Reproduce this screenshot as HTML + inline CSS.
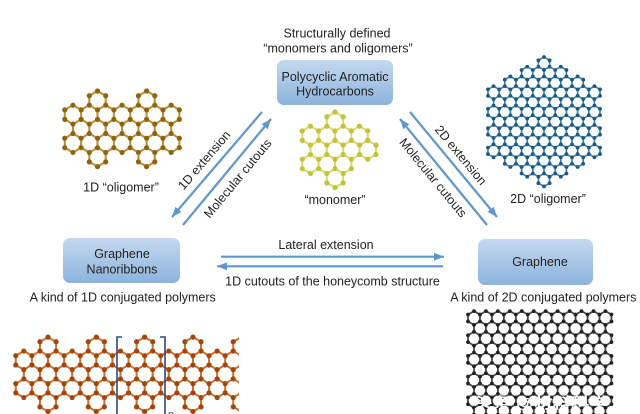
<!DOCTYPE html>
<html><head><meta charset="utf-8">
<style>
html,body{margin:0;padding:0;background:#fff;width:640px;height:414px;overflow:hidden;}
svg{display:block;}
text{font-family:"Liberation Sans","Noto Sans CJK SC",sans-serif;fill:#222;font-size:12.5px;}
</style></head><body>
<svg id="s" width="640" height="414" viewBox="0 0 640 414" xmlns="http://www.w3.org/2000/svg">
<defs>
<linearGradient id="bx" x1="0" y1="0" x2="0" y2="1">
<stop offset="0" stop-color="#c4d9ef"/><stop offset="1" stop-color="#8db3dc"/>
</linearGradient>
<marker id="ah" viewBox="0 0 10 8" refX="10" refY="4" markerWidth="10" markerHeight="8" markerUnits="userSpaceOnUse" orient="auto">
<path d="M0,0 L10,4 L0,8 z" fill="#5f97cb"/>
</marker>
<clipPath id="gnrclip"><rect x="0" y="330" width="239" height="90"/></clipPath>
</defs>
<rect width="640" height="414" fill="#fff"/>

<g id="mols"></g>

<!-- boxes -->
<rect x="277" y="60" width="116" height="45" rx="7" fill="url(#bx)"/>
<rect x="63" y="238" width="117" height="45" rx="7" fill="url(#bx)"/>
<rect x="478" y="239" width="115" height="46" rx="7" fill="url(#bx)"/>

<!-- arrows -->
<g stroke="#5f97cb" stroke-width="2.2" fill="none">
<line x1="262" y1="112" x2="172" y2="217" marker-end="url(#ah)"/>
<line x1="183" y1="225" x2="271" y2="119" marker-end="url(#ah)"/>
<line x1="410" y1="112" x2="497" y2="217" marker-end="url(#ah)"/>
<line x1="487" y1="225" x2="400" y2="119" marker-end="url(#ah)"/>
<line x1="221" y1="256.7" x2="444" y2="256.7" marker-end="url(#ah)"/>
<line x1="443" y1="266.3" x2="217" y2="266.3" marker-end="url(#ah)"/>
</g>

<!-- text -->
<g text-anchor="middle">
<text x="337" y="37.3">Structurally defined</text>
<text x="338" y="52.5">“monomers and oligomers”</text>
<text x="335" y="80.8" fill="#1c2433">Polycyclic Aromatic</text>
<text x="335" y="95.5" fill="#1c2433">Hydrocarbons</text>
<text x="335" y="204">“monomer”</text>
<text x="121" y="191.5">1D “oligomer”</text>
<text x="548" y="203">2D “oligomer”</text>
<text x="122" y="258">Graphene</text>
<text x="122" y="273.5">Nanoribbons</text>
<text x="122.7" y="301.5">A kind of 1D conjugated polymers</text>
<text x="540" y="266">Graphene</text>
<text x="543.3" y="301.5">A kind of 2D conjugated polymers</text>
<text x="326" y="249">Lateral extension</text>
<text x="332.5" y="285.5">1D cutouts of the honeycomb structure</text>
<text transform="translate(204,160) rotate(-49.4)" y="4.5">1D extension</text>
<text transform="translate(237.5,178.3) rotate(-50.3)" y="4.5">Molecular cutouts</text>
<text transform="translate(461,155) rotate(50.4)" y="4.5">2D extension</text>
<text transform="translate(433.3,177.5) rotate(50.6)" y="4.5">Molecular cutouts</text>
</g>

<!-- bracket -->
<g stroke="#2d4a7a" stroke-width="1.6" fill="none">
<path d="M122,337 L117,337 L117,416 L122,416"/>
<path d="M160,337 L165,337 L165,416 L160,416"/>
</g>
<text x="168" y="418" style="font-size:11px;fill:#2d4a7a">n</text>

<g id="wm"></g>
</svg>
<script>
(function(){
const NS="http://www.w3.org/2000/svg";
const root=document.getElementById('mols');
function el(tag,attrs,parent){const e=document.createElementNS(NS,tag);for(const k in attrs)e.setAttribute(k,attrs[k]);(parent||root).appendChild(e);return e;}
function mol(centers,a,bond,atom,bw,ar,parent){
  const h=Math.sqrt(3)/2*a;
  const E=new Map(),A=new Map();
  const key=p=>Math.round(p[0]*4)+","+Math.round(p[1]*4);
  centers.forEach(function(c){
    const cx=c[0],cy=c[1];
    const v=[[cx,cy-a],[cx+h,cy-a/2],[cx+h,cy+a/2],[cx,cy+a],[cx-h,cy+a/2],[cx-h,cy-a/2]];
    for(let i=0;i<6;i++){const p=v[i],q=v[(i+1)%6];const k1=key(p),k2=key(q);E.set(k1<k2?k1+"|"+k2:k2+"|"+k1,[p,q]);A.set(k1,p);}
  });
  let d="";E.forEach(function(pq){const p=pq[0],q=pq[1];d+="M"+p[0].toFixed(2)+" "+p[1].toFixed(2)+"L"+q[0].toFixed(2)+" "+q[1].toFixed(2);});
  el('path',{d:d,stroke:bond,'stroke-width':bw,fill:'none','stroke-linecap':'round'},parent);
  let d2="";A.forEach(function(p){d2+="M"+(p[0]-ar).toFixed(2)+" "+p[1].toFixed(2)+"a"+ar+" "+ar+" 0 1 0 "+(2*ar)+" 0a"+ar+" "+ar+" 0 1 0 "+(-2*ar)+" 0";});
  el('path',{d:d2,fill:atom},parent);
}
function rows(cx,y0,a,spec){
  const w=Math.sqrt(3)*a;const out=[];
  spec.forEach(function(offs,r){offs.forEach(function(o){out.push([cx+o*w,y0+r*1.5*a]);});});
  return out;
}
function range(a,b){const r=[];for(let x=a;x<=b+1e-9;x+=1)r.push(x);return r;}

// 1D oligomer (golden brown)
mol(rows(122.05,100.45,9.45,[[-1.5,1.5],range(-3,3),range(-2.5,2.5),range(-3,3),[-1.5,1.5]]),9.45,'#bb8d2e','#8f640f',2,2.6);

// monomer (yellow)
mol(rows(335,121.45,9.45,[[0],[-1.5,-0.5,0.5,1.5],[-1,0,1,2],[-1.5,-0.5,0.5],[0]]),9.45,'#d9d96a','#c4c238',2,2.6);

// 2D oligomer (blue)
const counts=[1,4,7,10,9,10,9,10,9,10,7,4,1];
mol(rows(544,63.5,6.47,counts.map(function(n){const o=[];for(let i=0;i<n;i++)o.push(i-(n-1)/2);return o;})),6.47,'#3a7ea8','#1b5a84',1.6,1.9);

// GNR (orange-brown), clipped
const g=el('g',{'clip-path':'url(#gnrclip)'});
mol(rows(48,346.4,9.3,[[0,3,6,9,12],range(-1.5,12.5),range(-1,12),range(-1.5,12.5),[0,3,6,9,12]]),9.3,'#c8722f','#a1460e',2,2.6,g);

// graphene (black)
const gr=[];const ga=6.9;
for(let r=0;r<11;r++){const o=[];if(r%2===0){for(let k=0;k<=11;k++)o.push(k);}else{for(let k=0;k<=10;k++)o.push(k+0.5);}gr.push(o);}
mol(rows(474,318,ga,gr),ga,'#4a4a4a','#222',1.8,1.9);

// watermark
const wm=document.getElementById('wm');
const t=el('text',{x:474,y:408,textLength:134,lengthAdjust:'spacingAndGlyphs',style:'font-size:15px;fill:#fff;font-weight:bold;font-family:"Liberation Sans","Noto Sans CJK SC",sans-serif'},wm);
t.textContent="头条 @材料科学";
})();
</script>
</body></html>
